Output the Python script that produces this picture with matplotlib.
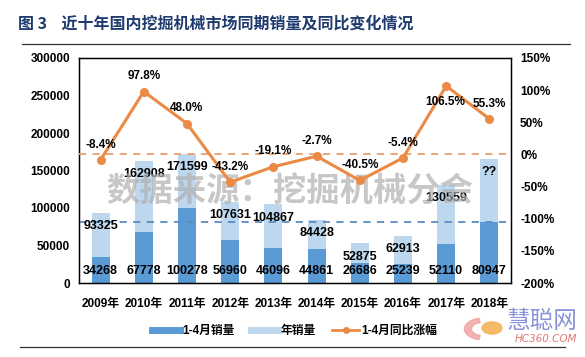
import matplotlib
matplotlib.use("Agg")
import matplotlib.pyplot as plt
from matplotlib.lines import Line2D
from matplotlib.patches import Circle, Wedge
from matplotlib.ticker import FuncFormatter

plt.rcParams['font.family'] = ['Liberation Sans', 'Noto Sans CJK SC', 'DejaVu Sans']
plt.rcParams['font.weight'] = 'bold'

years = ['2009年', '2010年', '2011年', '2012年', '2013年', '2014年', '2015年', '2016年', '2017年', '2018年']
sales_jan_apr = [34268, 67778, 100278, 56960, 46096, 44861, 26686, 25239, 52110, 80947]
sales_year = [93325, 162908, 171599, 107631, 104867, 84428, 52875, 62913, 130559, 166000]
sales_year_labels = ['93325', '162908', '171599', '107631', '104867', '84428', '52875', '62913', '130559', '??']
yoy_pct = [-8.4, 97.8, 48.0, -43.2, -19.1, -2.7, -40.5, -5.4, 106.5, 55.3]

DARK = '#5b9bd5'
LIGHT = '#bdd7ee'
ORANGE = '#ea8a45'

fig = plt.figure(figsize=(5.85, 3.57), dpi=100)
ax = fig.add_axes([79/585, 1-283/357, (511-79)/585, (283-58)/357])
ax2 = ax.twinx()

x = list(range(len(years)))
w = 0.42
ax.bar(x, sales_year, width=w, color=LIGHT, zorder=2)
ax.bar(x, sales_jan_apr, width=w, color=DARK, zorder=2.5)
ax.axhline(sales_jan_apr[-1], color='#5b8dbf', lw=1.3, ls=(0, (4, 3.5)), zorder=2.8)

ax.set_ylim(0, 300000)
ax.set_xlim(-0.5, len(years) - 0.5)
ax.set_yticks(range(0, 300001, 50000))
ax.set_xticks(x)
ax.set_xticklabels(years)
ax.tick_params(axis='both', length=0, labelsize=8.5)
ax.tick_params(axis='x', pad=11)
ax.tick_params(axis='y', pad=6.5)
for s in ax.spines.values():
    s.set_color('black')
    s.set_linewidth(1)

for xi, v, lab in zip(x, sales_year, sales_year_labels):
    ax.annotate(lab, (xi, v), xytext=(0, -9.5), textcoords='offset points',
                ha='center', va='center', fontsize=9, fontweight='bold', zorder=4)
for xi, v in zip(x, sales_jan_apr):
    ax.annotate(str(v), (xi, 0), xytext=(0, 8.6), textcoords='offset points',
                ha='center', va='center', fontsize=9, fontweight='bold', zorder=4)

# watermark
ax.text(290/585, 1-192/357, '数据来源：挖掘机械分会', transform=fig.transFigure,
        ha='center', va='center', fontsize=24, fontweight='bold',
        family=['Noto Sans CJK SC'], color='#b0b0b0', alpha=0.7, zorder=5)

ax2.plot(x, yoy_pct, color=ORANGE, lw=2.2, marker='o', markersize=5.5, zorder=5)
ax2.axhline(0, color='#e8a070', lw=1.3, ls=(0, (4, 3.5)), zorder=3)
ax2.set_ylim(-200, 150)
ax2.set_yticks(range(-200, 151, 50))
ax2.yaxis.set_major_formatter(FuncFormatter(lambda v, p: f'{int(v)}%'))
ax2.tick_params(axis='y', length=0, labelsize=8.5, pad=6.5)
for xi, v in zip(x, yoy_pct):
    off = -11.5 if v > 100 else 11
    ax2.annotate(f'{v:.1f}%', (xi, v), xytext=(-1 if v > 100 else 0, off), textcoords='offset points',
                 ha='center', va='center', fontsize=8.5, fontweight='bold', zorder=6)

# title and rules
fig.text(18/585, 1-24/357, '图 3    近十年国内挖掘机械市场同期销量及同比变化情况',
         ha='left', va='center', fontsize=11.5, fontweight='bold', color='#1f3a6e',
         family=['Noto Sans CJK SC'])
fig.add_artist(Line2D([22/585, 570/585], [1-44/357, 1-44/357], color='#333333', lw=0.9, transform=fig.transFigure))
fig.add_artist(Line2D([20/585, 565/585], [1-347/357, 1-347/357], color='#333333', lw=0.9, transform=fig.transFigure))

handles = [Line2D([], [], color=DARK, lw=5),
           Line2D([], [], color=LIGHT, lw=5),
           Line2D([], [], color=ORANGE, lw=2, marker='o', markersize=4)]
fig.legend(handles, ['1-4月销量', '年销量', '1-4月同比涨幅'], loc='center',
           bbox_to_anchor=(295/585, 1-331/357), ncol=3, frameon=False,
           handlelength=2.3, handletextpad=0.2, columnspacing=1.4,
           prop={'weight': 'bold', 'size': 8.5})

# logo watermark
fig.add_artist(Wedge((482/585, 1-329/357), 0.03, 100, 260, width=0.012,
                     color='#f2a0a0', alpha=0.8, transform=fig.transFigure))
fig.add_artist(Circle((492/585, 1-328/357), 0.017, color='#f5b050', alpha=0.85,
                      transform=fig.transFigure))
fig.text(542/585, 1-322/357, '慧聪网', ha='center', va='center', fontsize=17,
         color='#8a92d8', fontweight='normal', family=['Noto Sans CJK SC'])
fig.text(546/585, 1-339/357, 'HC360.COM', ha='center', va='center', fontsize=7.5,
         color='#e07878', style='italic', fontweight='normal', family=['DejaVu Sans'])

fig.savefig('out.png', dpi=100)
